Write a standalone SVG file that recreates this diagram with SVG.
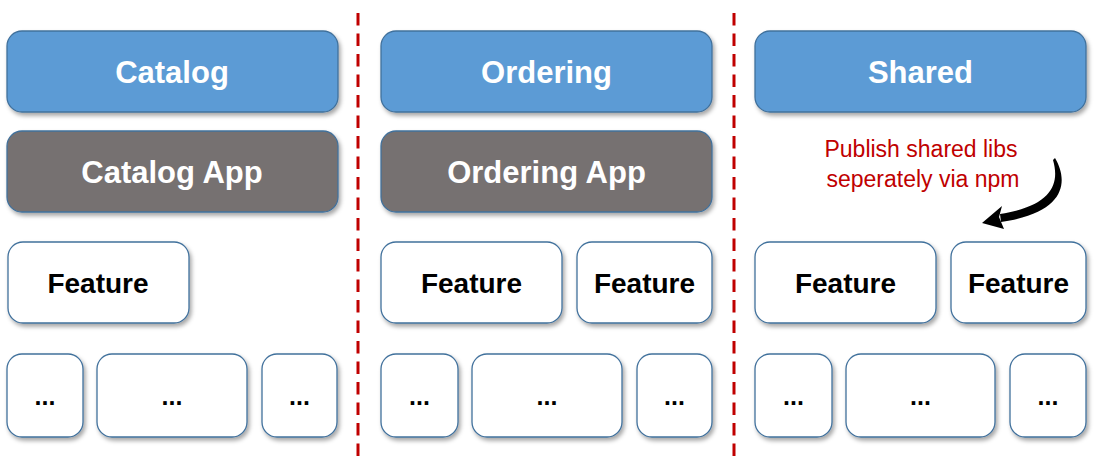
<svg xmlns="http://www.w3.org/2000/svg" width="1104" height="468" viewBox="0 0 1104 468">
<defs>
<filter id="sh" x="-10%" y="-10%" width="125%" height="135%">
<feDropShadow dx="2" dy="3" stdDeviation="2" flood-color="#000" flood-opacity="0.35"/>
</filter>
<style>
.blue{fill:#5B9BD5;stroke:#41719C;stroke-width:1.3;filter:url(#sh)}
.gray{fill:#767171;stroke:#41719C;stroke-width:1.3;filter:url(#sh)}
.white{fill:#fff;stroke:#41719C;stroke-width:1.3;filter:url(#sh)}
.hd{font-family:"Liberation Sans",Arial,sans-serif;font-weight:bold;font-size:31px;fill:#fff;text-anchor:middle}
.ft{font-family:"Liberation Sans",Arial,sans-serif;font-weight:bold;font-size:28px;fill:#000;text-anchor:middle}
.dt{font-family:"Liberation Sans",Arial,sans-serif;font-weight:bold;font-size:25px;fill:#000;text-anchor:middle}
.note{font-family:"Liberation Sans",Arial,sans-serif;font-size:23px;fill:#C00000;text-anchor:middle}
.sep{stroke:#C00000;stroke-width:3;stroke-dasharray:12.5 8;fill:none}
</style>
</defs>
<g id="separators">
<line class="sep" x1="358" y1="13" x2="358" y2="462"/>
<line class="sep" x1="734" y1="13" x2="734" y2="462"/>
</g>
<g id="catalog"><rect class="blue" x="7" y="31" width="331" height="81" rx="15"/><text class="hd" x="172" y="83">Catalog</text></g>
<g id="catalog-app"><rect class="gray" x="7" y="131" width="331" height="81" rx="15"/><text class="hd" x="172" y="183">Catalog App</text></g>
<g id="ordering"><rect class="blue" x="381" y="31" width="331" height="81" rx="15"/><text class="hd" x="546.5" y="83">Ordering</text></g>
<g id="ordering-app"><rect class="gray" x="381" y="131" width="331" height="81" rx="15"/><text class="hd" x="546.5" y="183">Ordering App</text></g>
<g id="shared"><rect class="blue" x="755" y="31" width="331" height="81" rx="15"/><text class="hd" x="920.5" y="83">Shared</text></g>

<g id="c1-feature"><rect class="white" x="8" y="242" width="181" height="81" rx="15"/><text class="ft" x="98" y="293">Feature</text></g>
<g id="c2-feature1"><rect class="white" x="381" y="242" width="181" height="81" rx="15"/><text class="ft" x="471.5" y="293">Feature</text></g>
<g id="c2-feature2"><rect class="white" x="577" y="242" width="135" height="81" rx="15"/><text class="ft" x="644.5" y="293">Feature</text></g>
<g id="c3-feature1"><rect class="white" x="755" y="242" width="181" height="81" rx="15"/><text class="ft" x="845.5" y="293">Feature</text></g>
<g id="c3-feature2"><rect class="white" x="951" y="242" width="135" height="81" rx="15"/><text class="ft" x="1018.5" y="293">Feature</text></g>

<g id="c1-d1"><rect class="white" x="7" y="354" width="76" height="83" rx="15"/><text class="dt" x="45" y="405">...</text></g>
<g id="c1-d2"><rect class="white" x="97" y="354" width="150" height="83" rx="15"/><text class="dt" x="172" y="405">...</text></g>
<g id="c1-d3"><rect class="white" x="262" y="354" width="75" height="83" rx="15"/><text class="dt" x="299.5" y="405">...</text></g>
<g id="c2-d1"><rect class="white" x="381" y="354" width="77" height="83" rx="15"/><text class="dt" x="419.5" y="405">...</text></g>
<g id="c2-d2"><rect class="white" x="472" y="354" width="150" height="83" rx="15"/><text class="dt" x="547" y="405">...</text></g>
<g id="c2-d3"><rect class="white" x="637" y="354" width="75" height="83" rx="15"/><text class="dt" x="674.5" y="405">...</text></g>
<g id="c3-d1"><rect class="white" x="755" y="354" width="77" height="83" rx="15"/><text class="dt" x="793.5" y="405">...</text></g>
<g id="c3-d2"><rect class="white" x="846" y="354" width="149" height="83" rx="15"/><text class="dt" x="920.5" y="405">...</text></g>
<g id="c3-d3"><rect class="white" x="1010" y="354" width="76" height="83" rx="15"/><text class="dt" x="1048" y="405">...</text></g>

<g id="note">
<text class="note" x="921" y="157">Publish shared libs</text>
<text class="note" x="923" y="187">seperately via npm</text>
</g>
<g id="connectors">
<path d="M1055,158 C1067,178 1070,212 1001,222 L1000,214 C1052,206 1060,184 1053,160 Z" fill="#000"/>
<path d="M982,223 L1002,206 L999,217 L1004,229 Z" fill="#000"/>
</g>
</svg>
